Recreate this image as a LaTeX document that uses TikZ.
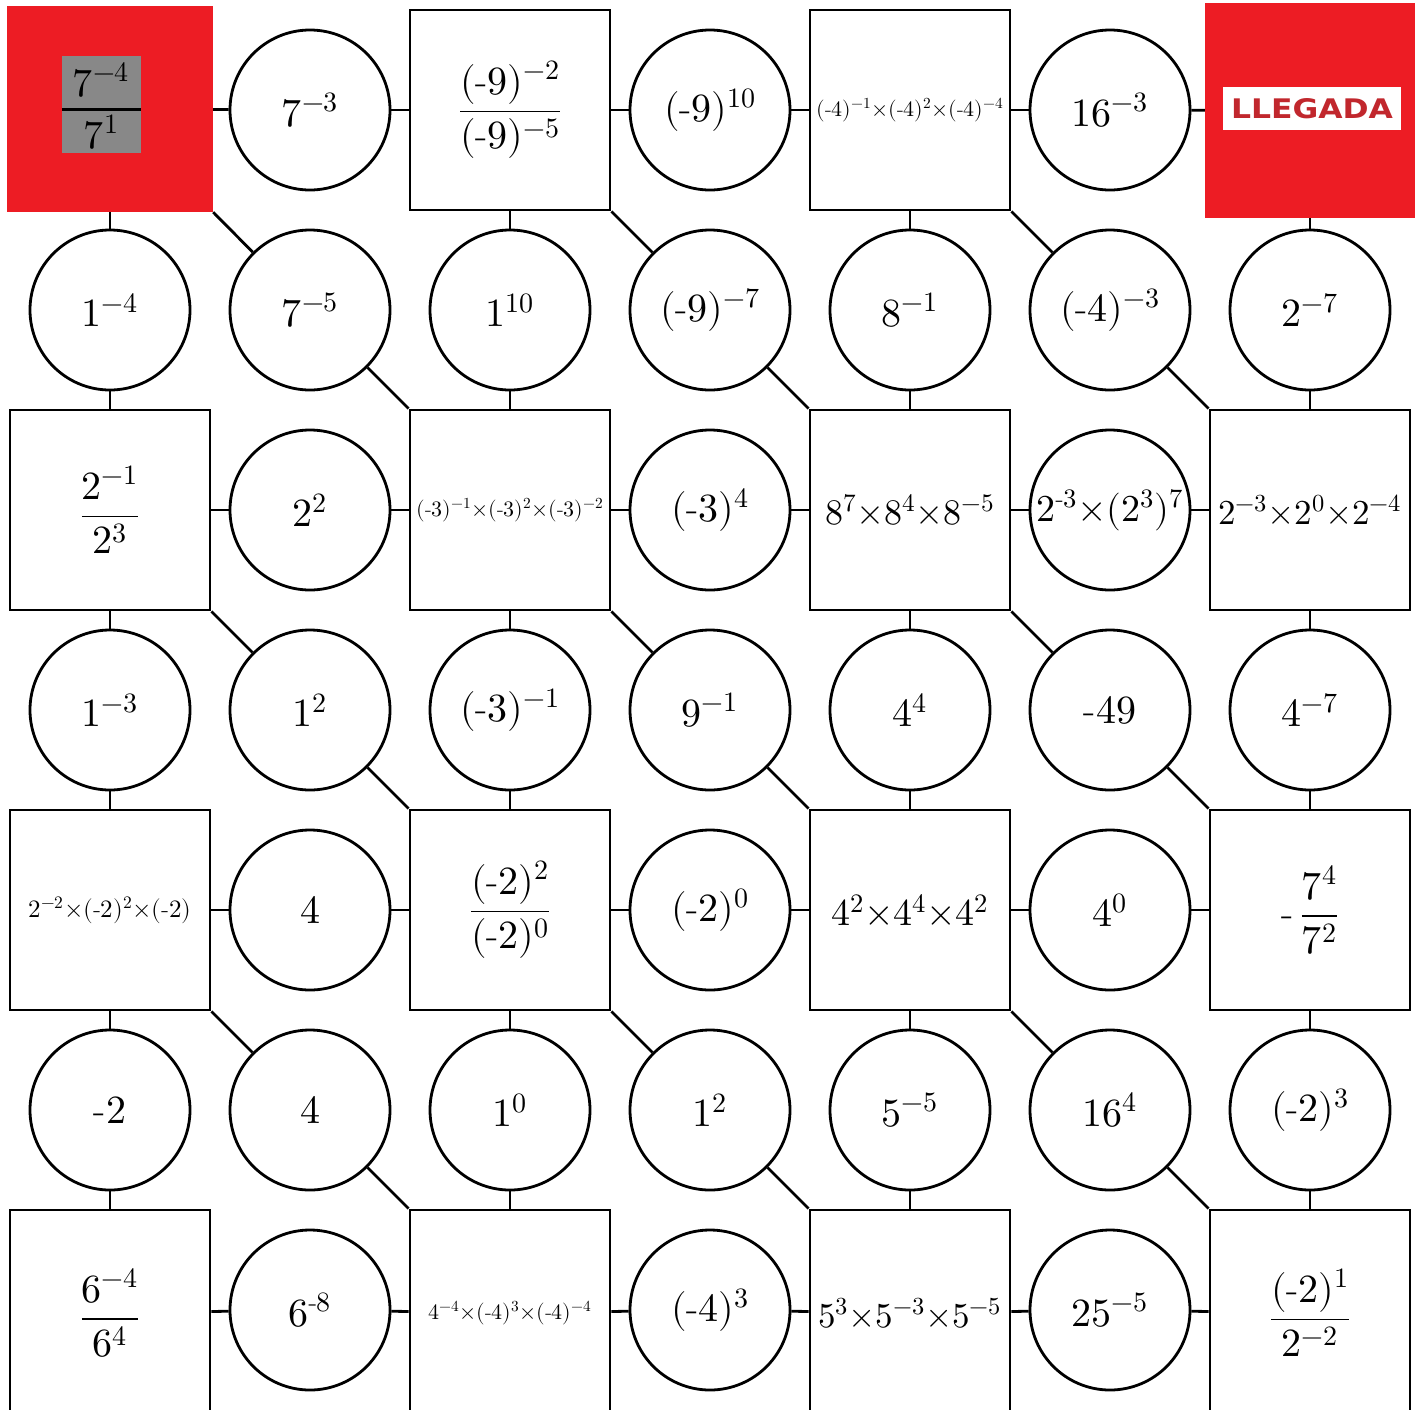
\documentclass[tikz,border=0pt]{standalone}
\usepackage{amsmath}
\usepackage{unicode-math}
\setmathfont{Latin Modern Math}
\newfontfamily\llfont{DejaVu Sans}
\usepackage{graphicx}
\definecolor{redbox}{RGB}{237,28,36}
\definecolor{llred}{RGB}{193,39,45}
\definecolor{startgray}{RGB}{136,136,136}
\newcommand{\hy}{\text{-}}
\newcommand{\tm}{\mathord{\times}}
\tikzset{
  sq/.style={draw, line width=2.8pt, minimum size=200pt, inner sep=0pt, fill=white},
  sqb/.style={sq, minimum height=206pt},
  ci/.style={draw, circle, line width=2.8pt, minimum size=160pt, inner sep=0pt, fill=white},
  conn/.style={line width=2.8pt},
  big/.style={font=\fontsize{40}{48}\selectfont},
  fs/.style={font=\fontsize{#1}{#1}\selectfont},
}
\begin{document}
\begin{tikzpicture}[x=1pt,y=-1pt]
\useasboundingbox (0,0) rectangle (1424,1409);
% ---- row 1
\node[fill=redbox, minimum width=206pt, minimum height=206pt, inner sep=0pt] (n11) at (110,109) {};
\node[fill=startgray, minimum width=79pt, minimum height=97pt, inner sep=0pt] (g) at (101.5,104.5) {};
\node[big, inner sep=0pt] (gnum) at (101,80) {$7^{-4}$};
\node[big, inner sep=0pt] (gden) at (101,132) {$7^{1}$};
\coordinate (fl) at (0,109);
\draw[line width=3pt] (g.west |- fl) -- (g.east |- fl);
\node[ci,big] (n12) at (310,110) {$7^{-3}$};
\node[sq,big] (n13) at (510,110) {$\dfrac{(\hy9)^{-2}}{(\hy9)^{-5}}$};
\node[ci,big] (n14) at (710,110) {$(\hy9)^{10}$};
\node[sq,fs=22] (n15) at (910,110) {$(\hy4)^{-1}\tm(\hy4)^{2}\tm(\hy4)^{-4}$};
\node[ci,big] (n16) at (1110,110) {$16^{-3}$};
\node[fill=redbox, minimum width=210pt, minimum height=215pt, inner sep=0pt] (n17) at (1310,110.5) {};
\node[fill=white, minimum width=178pt, minimum height=43pt, inner sep=0pt, text=llred] (ll) at (1312,108.5) {\resizebox{162pt}{20pt}{\llfont\bfseries LLEGADA}};
% ---- row 2
\node[ci,big] (n21) at (110,310) {$1^{-4}$};
\node[ci,big] (n22) at (310,310) {$7^{-5}$};
\node[ci,big] (n23) at (510,310) {$1^{10}$};
\node[ci,big] (n24) at (710,310) {$(\hy9)^{-7}$};
\node[ci,big] (n25) at (910,310) {$8^{-1}$};
\node[ci,big] (n26) at (1110,310) {$(\hy4)^{-3}$};
\node[ci,big] (n27) at (1310,310) {$2^{-7}$};
% ---- row 3
\node[sq,big] (n31) at (110,510) {$\dfrac{2^{-1}}{2^{3}}$};
\node[ci,big] (n32) at (310,510) {$2^{2}$};
\node[sq,fs=22] (n33) at (510,510) {$(\hy3)^{-1}\tm(\hy3)^{2}\tm(\hy3)^{-2}$};
\node[ci,big] (n34) at (710,510) {$(\hy3)^{4}$};
\node[sq,fs=36] (n35) at (910,510) {$8^{7}\tm8^{4}\tm8^{-5}$};
\node[ci,fs=38] (n36) at (1110,510) {$2^{\hy3}\tm(2^{3})^{7}$};
\node[sq,fs=35] (n37) at (1310,510) {$2^{-3}\tm2^{0}\tm2^{-4}$};
% ---- row 4
\node[ci,big] (n41) at (110,710) {$1^{-3}$};
\node[ci,big] (n42) at (310,710) {$1^{2}$};
\node[ci,big] (n43) at (510,710) {$(\hy3)^{-1}$};
\node[ci,big] (n44) at (710,710) {$9^{-1}$};
\node[ci,big] (n45) at (910,710) {$4^{4}$};
\node[ci,big] (n46) at (1110,710) {$\hy49$};
\node[ci,big] (n47) at (1310,710) {$4^{-7}$};
% ---- row 5
\node[sq,fs=25] (n51) at (110,910) {$2^{-2}\tm(\hy2)^{2}\tm(\hy2)$};
\node[ci,big] (n52) at (310,910) {$4$};
\node[sq,big] (n53) at (510,910) {$\dfrac{(\hy2)^{2}}{(\hy2)^{0}}$};
\node[ci,big] (n54) at (710,910) {$(\hy2)^{0}$};
\node[sq,fs=38] (n55) at (910,910) {$4^{2}\tm4^{4}\tm4^{2}$};
\node[ci,big] (n56) at (1110,910) {$4^{0}$};
\node[sq,big] (n57) at (1310,910) {$\hy\,\dfrac{7^{4}}{7^{2}}$};
% ---- row 6
\node[ci,big] (n61) at (110,1110) {$\hy2$};
\node[ci,big] (n62) at (310,1110) {$4$};
\node[ci,big] (n63) at (510,1110) {$1^{0}$};
\node[ci,big] (n64) at (710,1110) {$1^{2}$};
\node[ci,big] (n65) at (910,1110) {$5^{-5}$};
\node[ci,big] (n66) at (1110,1110) {$16^{4}$};
\node[ci,big] (n67) at (1310,1110) {$(\hy2)^{3}$};
% ---- row 7 (squares run past the bottom edge)
\node[sqb,big] (n71) at (110,1313) {$\dfrac{6^{-4}}{6^{4}}$};
\node[ci,big] (n72) at (310,1310) {$6^{\hy8}$};
\node[sqb,fs=22] (n73) at (510,1313) {$4^{-4}\tm(\hy4)^{3}\tm(\hy4)^{-4}$};
\node[ci,big] (n74) at (710,1310) {$(\hy4)^{3}$};
\node[sqb,fs=35] (n75) at (910,1313) {$5^{3}\tm5^{-3}\tm5^{-5}$};
\node[ci,big] (n76) at (1110,1310) {$25^{-5}$};
\node[sqb,big] (n77) at (1310,1313) {$\dfrac{(\hy2)^{1}}{2^{-2}}$};
% ---- connectors
\foreach \r in {1,3,5,7}{
  \foreach \c in {1,...,6}{
    \pgfmathtruncatemacro{\cnext}{\c+1}
    \draw[conn] (n\r\c) -- (n\r\cnext);
  }
}
\foreach \c in {1,3,5,7}{
  \foreach \r in {1,...,6}{
    \pgfmathtruncatemacro{\rnext}{\r+1}
    \draw[conn] (n\r\c) -- (n\rnext\c);
  }
}
\foreach \r in {1,3,5}{
  \foreach \c in {1,3,5}{
    \pgfmathtruncatemacro{\rnext}{\r+1}
    \pgfmathtruncatemacro{\cnext}{\c+1}
    \draw[conn] (n\r\c.south east) -- (n\rnext\cnext);
  }
}
\foreach \r in {2,4,6}{
  \foreach \c in {2,4,6}{
    \pgfmathtruncatemacro{\rnext}{\r+1}
    \pgfmathtruncatemacro{\cnext}{\c+1}
    \draw[conn] (n\r\c) -- (n\rnext\cnext.north west);
  }
}
\end{tikzpicture}
\end{document}
